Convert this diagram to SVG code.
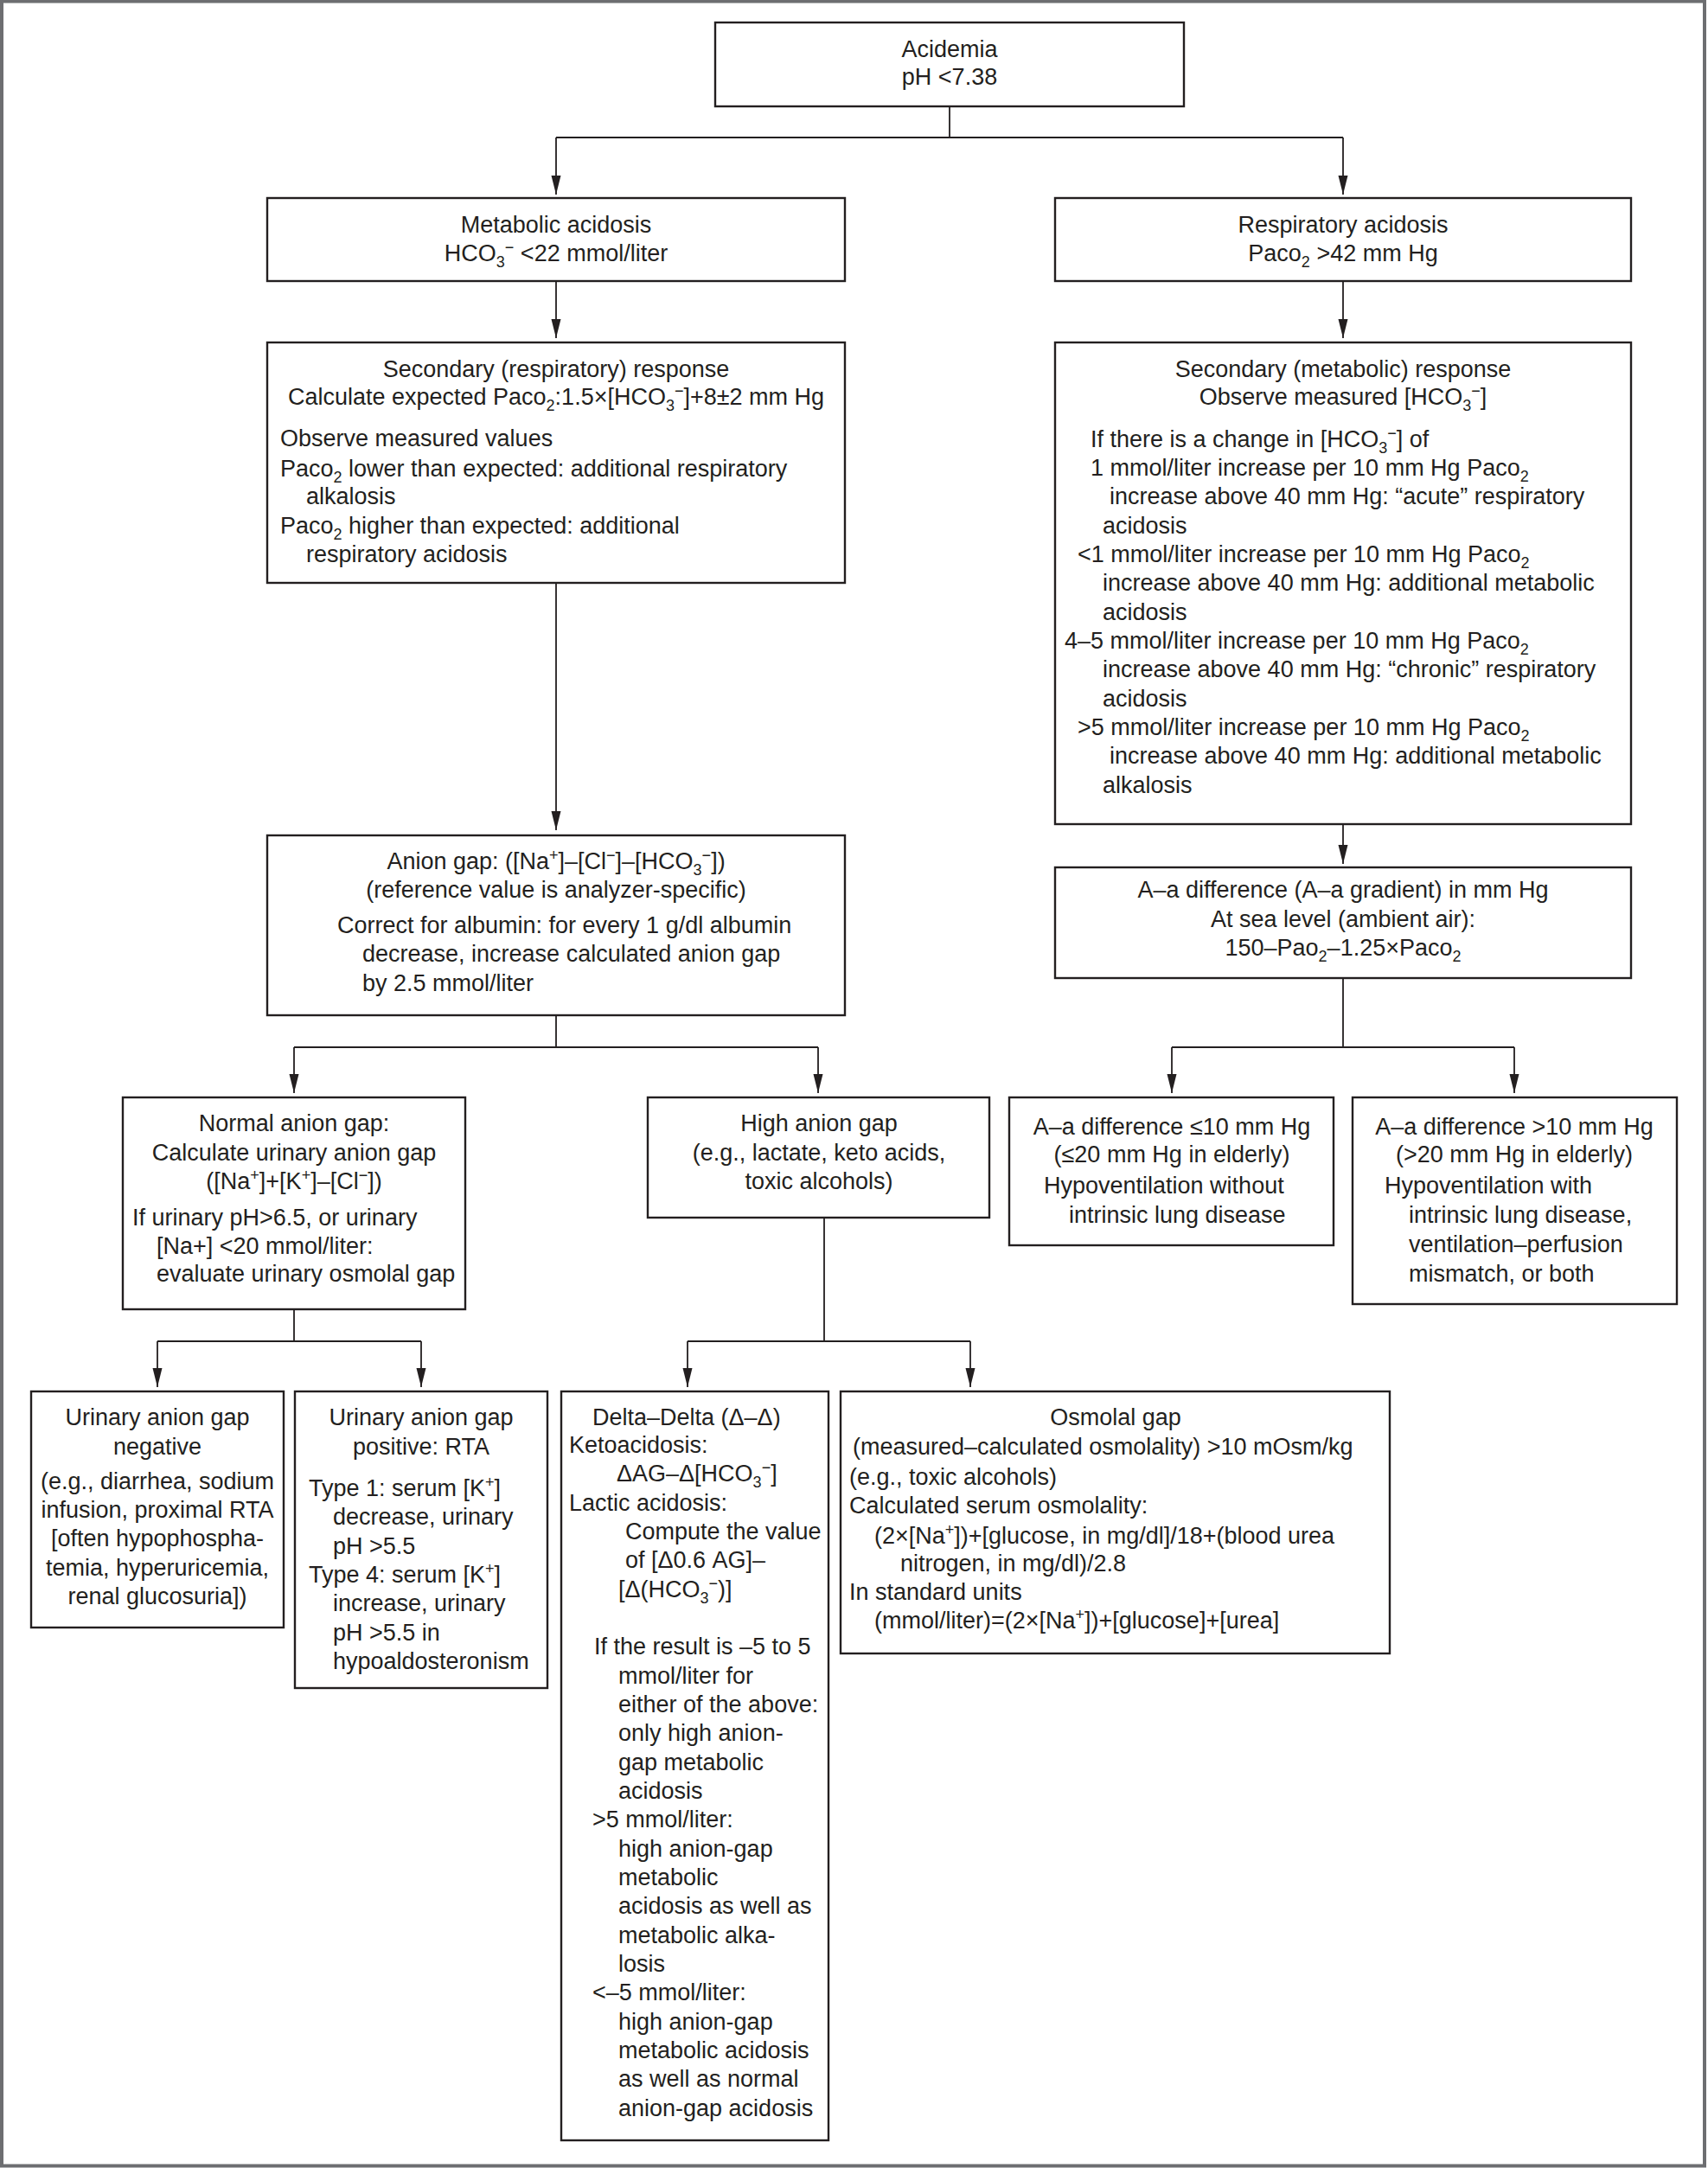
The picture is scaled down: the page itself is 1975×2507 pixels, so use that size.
<svg xmlns="http://www.w3.org/2000/svg" width="1975" height="2507" viewBox="0 0 1975 2507">
<style>
.box{fill:#fff;stroke:#231f20;stroke-width:2.4}
.t{font-family:"Liberation Sans",Arial,sans-serif;font-size:27px;fill:#231f20}
.c{text-anchor:middle}
.sb{font-size:18px}
.conn{fill:none;stroke:#231f20;stroke-width:1.8}
</style>
<defs>
<marker id="ah" markerUnits="userSpaceOnUse" markerWidth="22" markerHeight="12" refX="22" refY="6" orient="auto">
<path d="M0,0.5 L22,6 L0,11.5 Z" fill="#231f20"/>
</marker>
</defs>
<rect x="2" y="1.5" width="1969" height="2503" fill="#fff" stroke="#6d6e71" stroke-width="4"/>

<g id="connectors">
<path class="conn" d="M1098,123 V159 M643,159 H1553"/>
<path class="conn" d="M643,159 V225" marker-end="url(#ah)"/>
<path class="conn" d="M1553,159 V225" marker-end="url(#ah)"/>
<path class="conn" d="M643,325 V391" marker-end="url(#ah)"/>
<path class="conn" d="M1553,325 V391" marker-end="url(#ah)"/>
<path class="conn" d="M643,674 V960" marker-end="url(#ah)"/>
<path class="conn" d="M1553,953 V999" marker-end="url(#ah)"/>
<path class="conn" d="M643,1174 V1211 M340,1211 H946"/>
<path class="conn" d="M340,1211 V1264" marker-end="url(#ah)"/>
<path class="conn" d="M946,1211 V1264" marker-end="url(#ah)"/>
<path class="conn" d="M1553,1131 V1211 M1355,1211 H1751"/>
<path class="conn" d="M1355,1211 V1264" marker-end="url(#ah)"/>
<path class="conn" d="M1751,1211 V1264" marker-end="url(#ah)"/>
<path class="conn" d="M340,1514 V1551 M182,1551 H487"/>
<path class="conn" d="M182,1551 V1604" marker-end="url(#ah)"/>
<path class="conn" d="M487,1551 V1604" marker-end="url(#ah)"/>
<path class="conn" d="M953,1408 V1551 M795,1551 H1122"/>
<path class="conn" d="M795,1551 V1604" marker-end="url(#ah)"/>
<path class="conn" d="M1122,1551 V1604" marker-end="url(#ah)"/>
</g>

<g id="acidemia">
<rect class="box" x="827" y="26" width="542" height="97"/>
<text class="t c" x="1098" y="66">Acidemia</text>
<text class="t c" x="1098" y="98">pH &lt;7.38</text>
</g>

<g id="metabolic-acidosis">
<rect class="box" x="309" y="229" width="668" height="96"/>
<text class="t c" x="643" y="269">Metabolic acidosis</text>
<text class="t c" x="643" y="302">HCO<tspan class="sb" dy="7">3</tspan><tspan class="sb" dy="-17">−</tspan><tspan dy="10"> &lt;22 mmol/liter</tspan></text>
</g>

<g id="respiratory-acidosis">
<rect class="box" x="1220" y="229" width="666" height="96"/>
<text class="t c" x="1553" y="269">Respiratory acidosis</text>
<text class="t c" x="1553" y="302">Paco<tspan class="sb" dy="7">2</tspan><tspan dy="-7"> &gt;42 mm Hg</tspan></text>
</g>

<g id="secondary-respiratory">
<rect class="box" x="309" y="396" width="668" height="278"/>
<text class="t c" x="643" y="436">Secondary (respiratory) response</text>
<text class="t c" x="643" y="468">Calculate expected Paco<tspan class="sb" dy="7">2</tspan><tspan dy="-7">:1.5×[HCO</tspan><tspan class="sb" dy="7">3</tspan><tspan class="sb" dy="-17">−</tspan><tspan dy="10">]+8±2 mm Hg</tspan></text>
<text class="t" x="324" y="516">Observe measured values</text>
<text class="t" x="324" y="551">Paco<tspan class="sb" dy="7">2</tspan><tspan dy="-7"> lower than expected: additional respiratory</tspan></text>
<text class="t" x="354" y="583">alkalosis</text>
<text class="t" x="324" y="617">Paco<tspan class="sb" dy="7">2</tspan><tspan dy="-7"> higher than expected: additional</tspan></text>
<text class="t" x="354" y="650">respiratory acidosis</text>
</g>

<g id="secondary-metabolic">
<rect class="box" x="1220" y="396" width="666" height="557"/>
<text class="t c" x="1553" y="436">Secondary (metabolic) response</text>
<text class="t c" x="1553" y="468">Observe measured [HCO<tspan class="sb" dy="7">3</tspan><tspan class="sb" dy="-17">−</tspan><tspan dy="10">]</tspan></text>
<text class="t" x="1261" y="517">If there is a change in [HCO<tspan class="sb" dy="7">3</tspan><tspan class="sb" dy="-17">−</tspan><tspan dy="10">] of</tspan></text>
<text class="t" x="1261" y="550">1 mmol/liter increase per 10 mm Hg Paco<tspan class="sb" dy="7">2</tspan></text>
<text class="t" x="1283" y="583">increase above 40 mm Hg: “acute” respiratory</text>
<text class="t" x="1275" y="617">acidosis</text>
<text class="t" x="1246" y="650">&lt;1 mmol/liter increase per 10 mm Hg Paco<tspan class="sb" dy="7">2</tspan></text>
<text class="t" x="1275" y="683">increase above 40 mm Hg: additional metabolic</text>
<text class="t" x="1275" y="717">acidosis</text>
<text class="t" x="1231" y="750">4–5 mmol/liter increase per 10 mm Hg Paco<tspan class="sb" dy="7">2</tspan></text>
<text class="t" x="1275" y="783">increase above 40 mm Hg: “chronic” respiratory</text>
<text class="t" x="1275" y="817">acidosis</text>
<text class="t" x="1246" y="850">&gt;5 mmol/liter increase per 10 mm Hg Paco<tspan class="sb" dy="7">2</tspan></text>
<text class="t" x="1283" y="883">increase above 40 mm Hg: additional metabolic</text>
<text class="t" x="1275" y="917">alkalosis</text>
</g>

<g id="anion-gap">
<rect class="box" x="309" y="966" width="668" height="208"/>
<text class="t c" x="643" y="1005">Anion gap: ([Na<tspan class="sb" dy="-10">+</tspan><tspan dy="10">]–[Cl</tspan><tspan class="sb" dy="-10">−</tspan><tspan dy="10">]–[HCO</tspan><tspan class="sb" dy="7">3</tspan><tspan class="sb" dy="-17">−</tspan><tspan dy="10">])</tspan></text>
<text class="t c" x="643" y="1038">(reference value is analyzer-specific)</text>
<text class="t" x="390" y="1079">Correct for albumin: for every 1 g/dl albumin</text>
<text class="t" x="419" y="1112">decrease, increase calculated anion gap</text>
<text class="t" x="419" y="1146">by 2.5 mmol/liter</text>
</g>

<g id="aa-difference">
<rect class="box" x="1220" y="1003" width="666" height="128"/>
<text class="t c" x="1553" y="1038">A–a difference (A–a gradient) in mm Hg</text>
<text class="t c" x="1553" y="1072">At sea level (ambient air):</text>
<text class="t c" x="1553" y="1105">150–Pao<tspan class="sb" dy="7">2</tspan><tspan dy="-7">–1.25×Paco</tspan><tspan class="sb" dy="7">2</tspan></text>
</g>

<g id="normal-anion-gap">
<rect class="box" x="142" y="1269" width="396" height="245"/>
<text class="t c" x="340" y="1308">Normal anion gap:</text>
<text class="t c" x="340" y="1342">Calculate urinary anion gap</text>
<text class="t c" x="340" y="1375">([Na<tspan class="sb" dy="-10">+</tspan><tspan dy="10">]+[K</tspan><tspan class="sb" dy="-10">+</tspan><tspan dy="10">]–[Cl</tspan><tspan class="sb" dy="-10">−</tspan><tspan dy="10">])</tspan></text>
<text class="t" x="153" y="1417">If urinary pH&gt;6.5, or urinary</text>
<text class="t" x="181" y="1450">[Na+] &lt;20 mmol/liter:</text>
<text class="t" x="181" y="1482">evaluate urinary osmolal gap</text>
</g>

<g id="high-anion-gap">
<rect class="box" x="749" y="1269" width="395" height="139"/>
<text class="t c" x="947" y="1308">High anion gap</text>
<text class="t c" x="947" y="1342">(e.g., lactate, keto acids,</text>
<text class="t c" x="947" y="1375">toxic alcohols)</text>
</g>

<g id="aa-low">
<rect class="box" x="1167" y="1269" width="375" height="171"/>
<text class="t c" x="1355" y="1312">A–a difference ≤10 mm Hg</text>
<text class="t c" x="1355" y="1344">(≤20 mm Hg in elderly)</text>
<text class="t" x="1207" y="1380">Hypoventilation without</text>
<text class="t" x="1236" y="1414">intrinsic lung disease</text>
</g>

<g id="aa-high">
<rect class="box" x="1564" y="1269" width="375" height="239"/>
<text class="t c" x="1751" y="1312">A–a difference &gt;10 mm Hg</text>
<text class="t c" x="1751" y="1344">(&gt;20 mm Hg in elderly)</text>
<text class="t" x="1601" y="1380">Hypoventilation with</text>
<text class="t" x="1629" y="1414">intrinsic lung disease,</text>
<text class="t" x="1629" y="1448">ventilation–perfusion</text>
<text class="t" x="1629" y="1482">mismatch, or both</text>
</g>

<g id="urinary-negative">
<rect class="box" x="36" y="1609" width="292" height="273"/>
<text class="t c" x="182" y="1648">Urinary anion gap</text>
<text class="t c" x="182" y="1682">negative</text>
<text class="t c" x="182" y="1722">(e.g., diarrhea, sodium</text>
<text class="t c" x="182" y="1755">infusion, proximal RTA</text>
<text class="t c" x="182" y="1788">[often hypophospha-</text>
<text class="t c" x="182" y="1822">temia, hyperuricemia,</text>
<text class="t c" x="182" y="1855">renal glucosuria])</text>
</g>

<g id="urinary-positive">
<rect class="box" x="341" y="1609" width="292" height="343"/>
<text class="t c" x="487" y="1648">Urinary anion gap</text>
<text class="t c" x="487" y="1682">positive: RTA</text>
<text class="t" x="357" y="1730">Type 1: serum [K<tspan class="sb" dy="-10">+</tspan><tspan dy="10">]</tspan></text>
<text class="t" x="385" y="1763">decrease, urinary</text>
<text class="t" x="385" y="1797">pH &gt;5.5</text>
<text class="t" x="357" y="1830">Type 4: serum [K<tspan class="sb" dy="-10">+</tspan><tspan dy="10">]</tspan></text>
<text class="t" x="385" y="1863">increase, urinary</text>
<text class="t" x="385" y="1897">pH &gt;5.5 in</text>
<text class="t" x="385" y="1930">hypoaldosteronism</text>
</g>

<g id="delta-delta">
<rect class="box" x="649" y="1609" width="309" height="866"/>
<text class="t" x="685" y="1648">Delta–Delta (Δ–Δ)</text>
<text class="t" x="658" y="1680">Ketoacidosis:</text>
<text class="t" x="713" y="1713">ΔAG–Δ[HCO<tspan class="sb" dy="7">3</tspan><tspan class="sb" dy="-17">−</tspan><tspan dy="10">]</tspan></text>
<text class="t" x="658" y="1747">Lactic acidosis:</text>
<text class="t" x="723" y="1780">Compute the value</text>
<text class="t" x="723" y="1813">of [Δ0.6 AG]–</text>
<text class="t" x="715" y="1847">[Δ(HCO<tspan class="sb" dy="7">3</tspan><tspan class="sb" dy="-17">−</tspan><tspan dy="10">)]</tspan></text>
<text class="t" x="687" y="1913">If the result is –5 to 5</text>
<text class="t" x="715" y="1947">mmol/liter for</text>
<text class="t" x="715" y="1980">either of the above:</text>
<text class="t" x="715" y="2013">only high anion-</text>
<text class="t" x="715" y="2047">gap metabolic</text>
<text class="t" x="715" y="2080">acidosis</text>
<text class="t" x="685" y="2113">&gt;5 mmol/liter:</text>
<text class="t" x="715" y="2147">high anion-gap</text>
<text class="t" x="715" y="2180">metabolic</text>
<text class="t" x="715" y="2213">acidosis as well as</text>
<text class="t" x="715" y="2247">metabolic alka-</text>
<text class="t" x="715" y="2280">losis</text>
<text class="t" x="685" y="2313">&lt;–5 mmol/liter:</text>
<text class="t" x="715" y="2347">high anion-gap</text>
<text class="t" x="715" y="2380">metabolic acidosis</text>
<text class="t" x="715" y="2413">as well as normal</text>
<text class="t" x="715" y="2447">anion-gap acidosis</text>
</g>

<g id="osmolal-gap">
<rect class="box" x="972" y="1609" width="635" height="303"/>
<text class="t c" x="1290" y="1648">Osmolal gap</text>
<text class="t" x="986" y="1682">(measured–calculated osmolality) &gt;10 mOsm/kg</text>
<text class="t" x="982" y="1717">(e.g., toxic alcohols)</text>
<text class="t" x="982" y="1750">Calculated serum osmolality:</text>
<text class="t" x="1011" y="1785">(2×[Na<tspan class="sb" dy="-10">+</tspan><tspan dy="10">])+[glucose, in mg/dl]/18+(blood urea</tspan></text>
<text class="t" x="1041" y="1817">nitrogen, in mg/dl)/2.8</text>
<text class="t" x="982" y="1850">In standard units</text>
<text class="t" x="1011" y="1883">(mmol/liter)=(2×[Na<tspan class="sb" dy="-10">+</tspan><tspan dy="10">])+[glucose]+[urea]</tspan></text>
</g>
</svg>
